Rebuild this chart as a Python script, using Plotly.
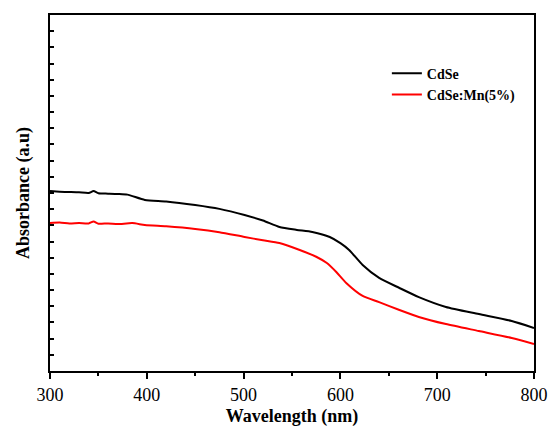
import plotly.graph_objects as go

wl_cdse = [300, 310, 320, 330, 340, 345, 350, 360, 370, 380, 398, 420, 450, 475, 501, 520, 537, 555, 571, 589, 600, 609, 623, 640, 661, 681, 709, 743, 777, 800]
abs_cdse = [1.112, 1.108, 1.106, 1.104, 1.100, 1.112, 1.098, 1.096, 1.094, 1.090, 1.057, 1.048, 1.026, 1.002, 0.964, 0.930, 0.890, 0.872, 0.859, 0.828, 0.790, 0.748, 0.655, 0.575, 0.513, 0.457, 0.396, 0.352, 0.309, 0.266]

wl_mn = [300, 310, 320, 330, 340, 345, 350, 360, 370, 385, 398, 420, 450, 475, 501, 520, 537, 558, 575, 586, 596, 606, 623, 640, 661, 681, 709, 743, 777, 800]
abs_mn = [0.915, 0.918, 0.912, 0.914, 0.912, 0.924, 0.910, 0.912, 0.908, 0.914, 0.902, 0.894, 0.878, 0.858, 0.828, 0.808, 0.791, 0.748, 0.706, 0.667, 0.610, 0.544, 0.464, 0.426, 0.377, 0.334, 0.290, 0.247, 0.204, 0.167]

series_names = ["CdSe", "CdSe:Mn(5%)"]
x_ticks = [300, 400, 500, 600, 700, 800]

font_family = "Liberation Serif"

fig = go.Figure()
fig.add_trace(go.Scatter(x=wl_cdse, y=abs_cdse, mode="lines", name=series_names[0],
                         line=dict(color="black", width=2, shape="spline", smoothing=0.6)))
fig.add_trace(go.Scatter(x=wl_mn, y=abs_mn, mode="lines", name=series_names[1],
                         line=dict(color="#ff0000", width=2, shape="spline", smoothing=0.6)))

fig.update_layout(
    width=549, height=427,
    margin=dict(l=50, r=15, t=15, b=56),
    paper_bgcolor="white", plot_bgcolor="white",
    font=dict(family=font_family, color="black"),
    showlegend=True,
    legend=dict(x=0.696, y=0.88, xanchor="left", yanchor="top",
                font=dict(size=14, family=font_family, color="black", weight="bold"),
                bgcolor="rgba(0,0,0,0)", tracegroupgap=0, itemwidth=30),
    xaxis=dict(range=[300, 800], tickvals=x_ticks, ticktext=[str(v) for v in x_ticks],
               ticks="outside", ticklen=6, tickwidth=2, tickcolor="black",
               minor=dict(dtick=50, ticks="outside", ticklen=3, tickwidth=2, tickcolor="black"),
               showline=True, linewidth=2, linecolor="black", mirror=True,
               showgrid=False, zeroline=False, automargin=False,
               tickfont=dict(size=18, family=font_family),
               title=dict(text="<b>Wavelength (nm)</b>", font=dict(size=18, family=font_family), standoff=16)),
    yaxis=dict(range=[0, 2.2], dtick=0.1, tick0=0, showticklabels=False,
               ticks="inside", ticklen=4, tickwidth=1.5, tickcolor="black",
               showline=True, linewidth=2, linecolor="black", mirror=True,
               showgrid=False, zeroline=False, automargin=False,
               title=dict(text="<b>Absorbance (a.u)</b>", font=dict(size=18, family=font_family), standoff=14)),
)

fig.write_html("out.html", config={"displayModeBar": False},
               post_script="document.body.style.margin='0px';document.body.style.padding='0px';")
